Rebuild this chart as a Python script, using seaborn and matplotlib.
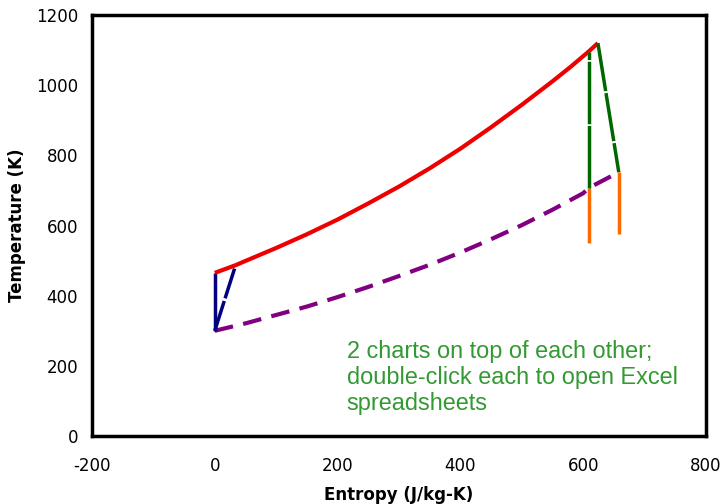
import matplotlib
matplotlib.use("Agg")
import matplotlib.pyplot as plt
import seaborn as sns
import pandas as pd

# Heat addition curve (red)
red_s = [0, 34, 50, 100, 150, 200, 250, 300, 350, 400, 450, 500, 550, 580, 609, 624]
red_T = [465, 487, 499, 536, 575, 617, 663, 711, 763, 819, 880, 944, 1011, 1053, 1096, 1120]

# Heat rejection curve (purple, dashed)
purple_s = [0, 50, 100, 150, 200, 250, 300, 350, 400, 450, 500, 550, 600, 609, 658]
purple_T = [300, 321, 345, 369, 396, 425, 456, 488, 523, 561, 601, 645, 692, 707, 752]

# Compression (blue)
blue_vert_s = [0, 0]
blue_vert_T = [300, 465]
blue_diag_s = [0, 34]
blue_diag_T = [300, 487]

# Expansion (green)
green_vert_s = [609, 609]
green_vert_T = [707, 1096]
green_diag_s = [624, 658]
green_diag_T = [1120, 752]

# Orange drops
orange_left_s = [609, 609]
orange_left_T = [707, 550]
orange_right_s = [658, 658]
orange_right_T = [752, 575]

note = "2 charts on top of each other;\ndouble-click each to open Excel\nspreadsheets"

sns.set_style("white")
plt.rcParams['font.family'] = ['DejaVu Sans']
plt.rcParams['axes.unicode_minus'] = False

fig = plt.figure(figsize=(7.22, 5.04), dpi=100)
ax = fig.add_axes([0.1274, 0.1349, 0.8504, 0.8353])


def seg(s, T, color, lw, dashes=None):
    df = pd.DataFrame({"s": s, "T": T})
    sns.lineplot(data=df, x="s", y="T", ax=ax, color=color, lw=lw,
                 sort=False, estimator=None)
    l = ax.lines[-1]
    if dashes is not None:
        l.set_dashes(dashes)
    l.set_solid_capstyle("butt")
    l.set_dash_capstyle("butt")
    l.set_solid_joinstyle("round")


seg(orange_left_s, orange_left_T, "#FF6A00", 2.5)
seg(orange_right_s, orange_right_T, "#FF6A00", 2.5, (24, 0.6))
seg(purple_s, purple_T, "#800080", 3, (4.5, 2.5))
seg(blue_vert_s, blue_vert_T, "#000080", 2.5)
seg(blue_diag_s, blue_diag_T, "#000080", 2.5, (9, 0.8))
seg(red_s, red_T, "#EE0000", 3)
seg(green_vert_s, green_vert_T, "#006600", 2.5, (18, 0.5))
seg(green_diag_s, green_diag_T, "#006600", 2.5, (14, 0.6))

ax.set_xlim(-200, 800)
ax.set_ylim(0, 1200)
ax.set_xticks([-200, 0, 200, 400, 600, 800])
ax.set_yticks([0, 200, 400, 600, 800, 1000, 1200])
ax.tick_params(axis="x", length=0, pad=15, labelsize=12, labelcolor="black")
ax.tick_params(axis="y", length=0, pad=10, labelsize=12, labelcolor="black")
ax.set_xlabel("Entropy (J/kg-K)", fontsize=12, fontweight="bold", labelpad=8, color="black")
ax.set_ylabel("Temperature (K)", fontsize=12, fontweight="bold", labelpad=7, color="black")
for sp in ax.spines.values():
    sp.set_color("black")
    sp.set_linewidth(2.5)

ax.text(0.415, 0.228, note, transform=ax.transAxes, color="#339933",
        fontsize=16.9, family="Liberation Sans", va="top", ha="left",
        linespacing=1.17)

fig.savefig("out.png", dpi=100)
